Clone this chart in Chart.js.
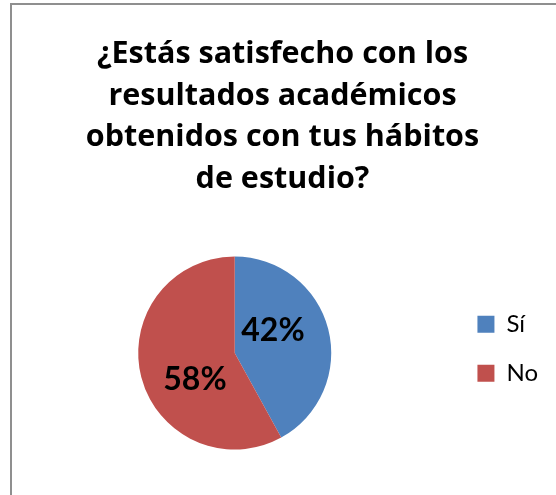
<!DOCTYPE html>
<html><head><meta charset="utf-8">
<script src="https://cdn.jsdelivr.net/npm/chart.js@4.4.1/dist/chart.umd.min.js"></script>
<style>
html,body{margin:0;padding:0;background:#fff;overflow:hidden}
#wrap{position:relative;width:556px;height:495px;overflow:hidden}
#frame{position:absolute;left:10px;top:3px;width:600px;height:600px;border-left:2px solid #8f8f8f;border-top:2px solid #8f8f8f}
canvas{position:absolute;left:0;top:0}
</style></head><body>
<div id="wrap"><div id="frame"></div><canvas id="c" width="556" height="495"></canvas></div>
<script>
const titleLines = ['¿Estás satisfecho con los', 'resultados académicos', 'obtenidos con tus hábitos', 'de estudio?'];
const categories = ['Sí', 'No'];
const values = [42, 58];
const percentLabels = ['42%', '58%'];
const colors = ['#4F81BD', '#C0504D'];

const pctPlugin = {
  id: 'pct',
  afterDatasetsDraw(chart, args, opts) {
    const meta = chart.getDatasetMeta(0);
    const ctx = chart.ctx;
    ctx.save();
    ctx.font = opts.font;
    ctx.fillStyle = opts.color;
    ctx.textAlign = 'center';
    ctx.textBaseline = 'middle';
    meta.data.forEach((arc, i) => {
      const p = arc.tooltipPosition();
      const off = opts.offsets[i] || [0, 0];
      ctx.fillText(percentLabels[i], p.x + off[0], p.y + off[1]);
    });
    ctx.restore();
  }
};

new Chart(document.getElementById('c'), {
  type: 'pie',
  data: {
    labels: categories,
    datasets: [{ data: values, backgroundColor: colors, borderWidth: 0 }]
  },
  options: {
    responsive: false,
    animation: false,
    layout: { padding: { left: 17, right: 8, top: 0, bottom: 45.5 } },
    plugins: {
      title: {
        display: true, text: titleLines, color: '#000',
        font: { family: 'Open Sans', size: 30.5, weight: 'bold', lineHeight: 1.367 },
        padding: { top: 33.5, bottom: 56.2 }
      },
      legend: {
        position: 'right', fullSize: false,
        title: { display: true, text: ' ', font: { size: 1, lineHeight: 1 }, padding: { top: 0, bottom: -9.5 } },
        labels: { boxWidth: 17, boxHeight: 17, padding: 25, color: '#000', font: { family: 'Lato', size: 24 } }
      },
      tooltip: { enabled: false },
      pct: { font: 'bold 32px Lato', color: '#000', offsets: [[-8.5, -10.5], [7, 14.5]] }
    }
  },
  plugins: [pctPlugin]
});
</script>
</body></html>
